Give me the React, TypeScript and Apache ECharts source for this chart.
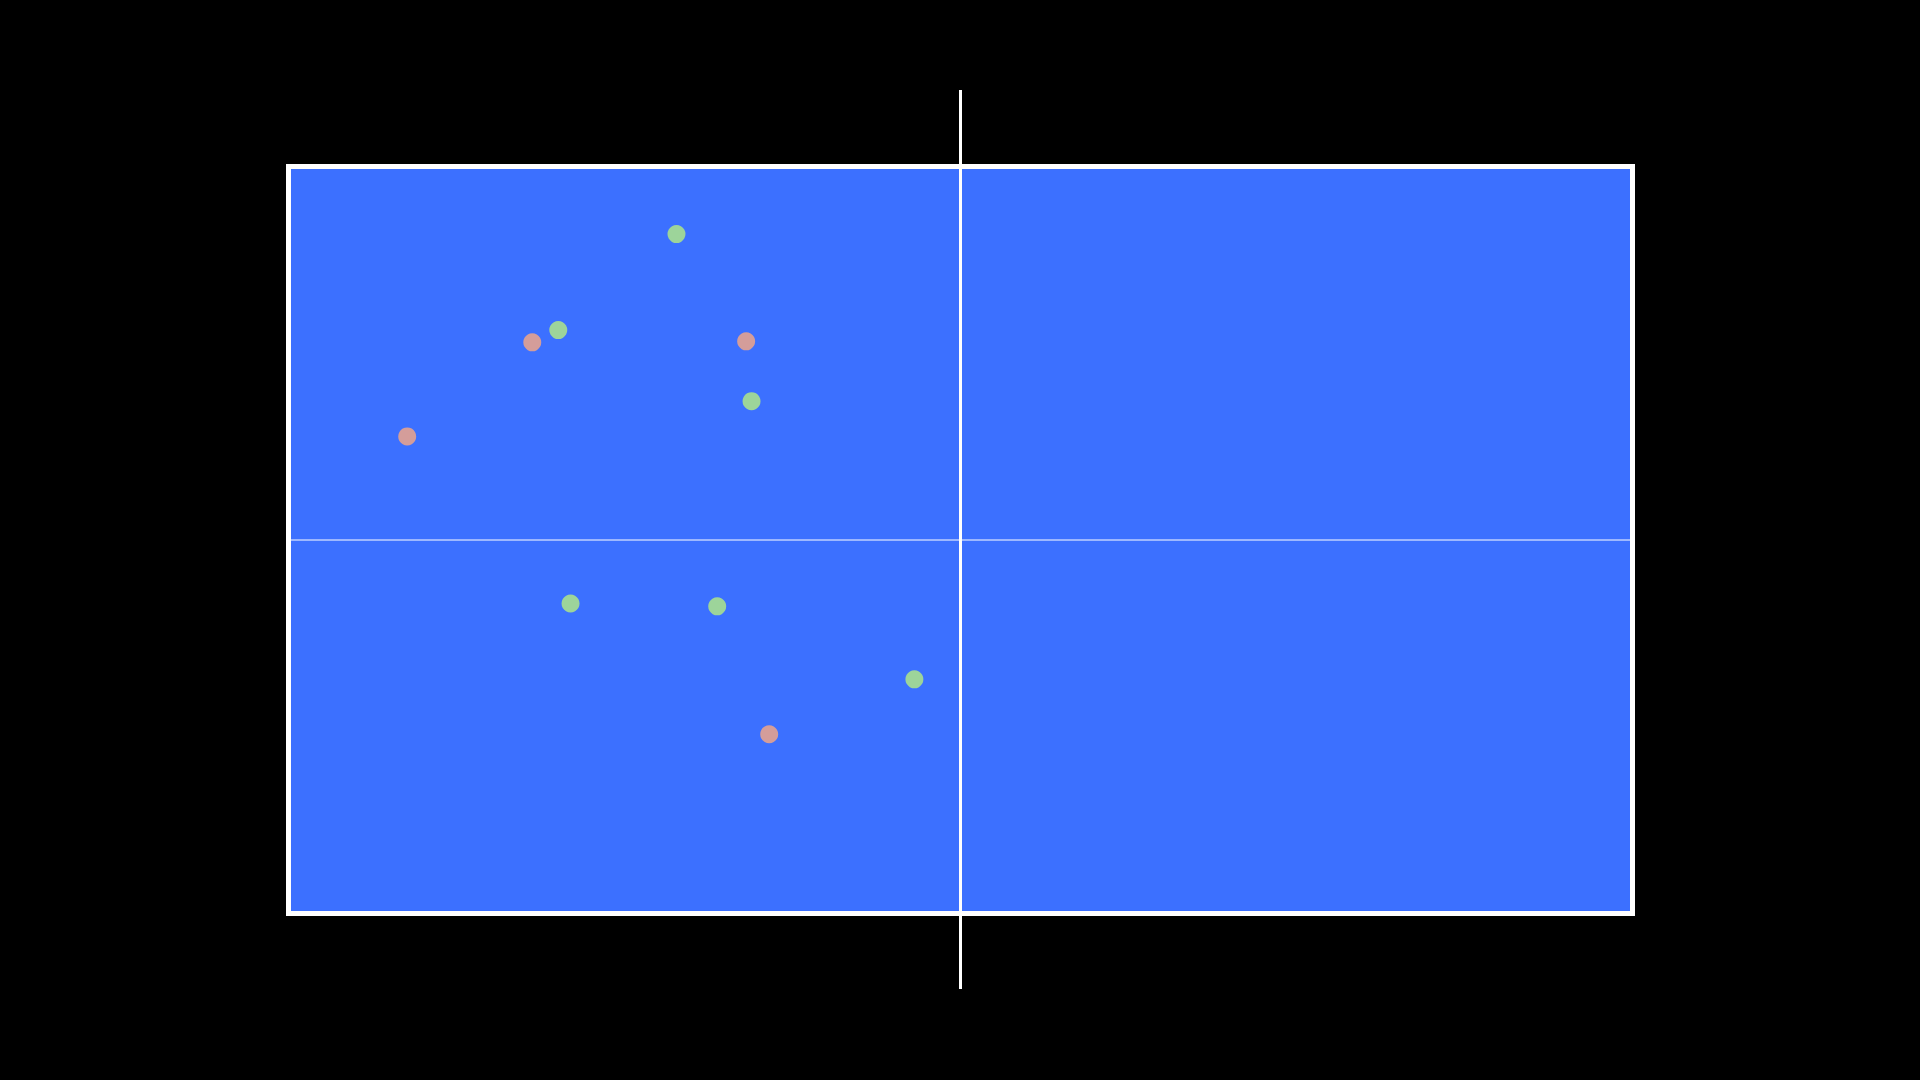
import React, { useEffect, useRef } from "react";
import * as echarts from "echarts";

// Table dimensions (cm)
const TABLE_LENGTH = 274;
const TABLE_WIDTH = 152.5;

// Ball landing points [x, y] in table cm
const greenPoints: number[][] = [
  [79.1, 138.7],
  [55.0, 119.1],
  [94.4, 104.6],
  [57.5, 63.3],
  [87.4, 62.7],
  [127.6, 47.8],
];
const redPoints: number[][] = [
  [49.7, 116.6],
  [93.3, 116.8],
  [24.2, 97.4],
  [98.0, 36.6],
];

// Net and center line
const netLine: number[][] = [
  [137, -15.4],
  [137, 168.1],
];
const centerLine: number[][] = [
  [0, 76.25],
  [274, 76.25],
];

export default function App() {
  const ref = useRef<HTMLDivElement>(null);
  useEffect(() => {
    if (!ref.current) return;
    const chart = echarts.init(ref.current, undefined, { renderer: "svg" });
    chart.setOption({
      animation: false,
      backgroundColor: "#000000",
      grid: {
        left: 288.5,
        top: 166.5,
        width: 1344,
        height: 747,
        show: true,
        backgroundColor: "#3c70ff",
        borderColor: "#ffffff",
        borderWidth: 5,
      },
      xAxis: {
        type: "value",
        min: 0,
        max: TABLE_LENGTH,
        show: false,
      },
      yAxis: {
        type: "value",
        min: 0,
        max: TABLE_WIDTH,
        show: false,
      },
      series: [
        {
          type: "line",
          data: centerLine,
          symbol: "none",
          lineStyle: { color: "#ffffff", width: 1 },
          silent: true,
          z: 1,
        },
        {
          type: "line",
          data: netLine,
          symbol: "none",
          clip: false,
          lineStyle: { color: "#ffffff", width: 3 },
          silent: true,
          z: 2,
        },
        {
          type: "scatter",
          data: greenPoints,
          symbolSize: 18,
          itemStyle: { color: "#9dd49a", opacity: 1 },
          z: 3,
        },
        {
          type: "scatter",
          data: redPoints,
          symbolSize: 18,
          itemStyle: { color: "#d49d9a", opacity: 1 },
          z: 3,
        },
      ],
    });
    return () => chart.dispose();
  }, []);
  return (
    <div
      ref={ref}
      style={{ position: "absolute", left: 0, top: 0, width: 1920, height: 1080 }}
    />
  );
}
